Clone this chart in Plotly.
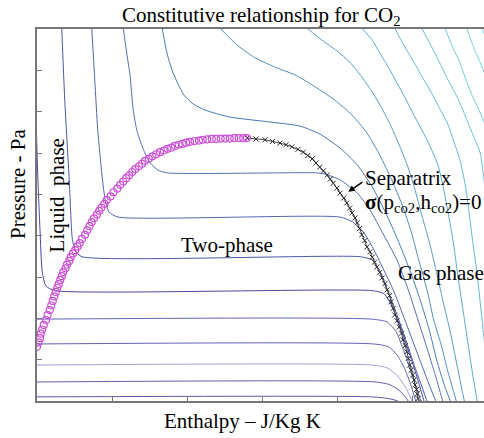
import plotly.graph_objects as go

# ---- isotherms (enthalpy in tick units, pressure in tick units) ----
# subcritical isotherms: liquid branch, two-phase plateau, gas branch
iso1_h = [0, 4.47, 4.68, 4.81, 4.87]
iso1_p = [0.10, 0.10, 0.06, 0, -0.10]
iso2_h = [0, 4.52, 4.71, 4.84, 4.95, 4.99]
iso2_p = [0.46, 0.46, 0.39, 0.24, 0, -0.15]
iso3_h = [0, 4.47, 4.67, 4.81, 4.92, 5.00, 5.03]
iso3_p = [0.87, 0.87, 0.80, 0.60, 0.31, 0, -0.12]
iso4_h = [0, 4.49, 4.69, 4.81, 4.91, 4.99, 5.05, 5.08]
iso4_p = [1.38, 1.38, 1.31, 1.09, 0.75, 0.36, 0, -0.15]
iso5_h = [0, 4.47, 4.67, 4.79, 4.88, 4.97, 5.05, 5.12, 5.15]
iso5_p = [1.98, 1.98, 1.91, 1.67, 1.26, 0.80, 0.36, 0, -0.15]
iso6_h = [-0.01, 0.01, 0.04, 0.07, 0.12, 0.24, 4.47, 4.63, 4.73, 4.83, 4.92, 5.01, 5.09, 5.16, 5.19]
iso6_p = [6.68, 5.47, 4.14, 3.12, 2.78, 2.67, 2.67, 2.59, 2.30, 1.86, 1.38, 0.90, 0.44, 0, -0.15]
iso7_h = [0.33, 0.37, 0.43, 0.47, 0.51, 0.60, 4.31, 4.47, 4.59, 4.69, 4.80, 4.91, 5.01, 5.11, 5.20, 5.23]
iso7_p = [9.02, 7.28, 5.35, 3.94, 3.63, 3.49, 3.49, 3.41, 3.07, 2.61, 2.08, 1.52, 0.97, 0.46, 0, -0.15]
iso8_h = [0.73, 0.77, 0.81, 0.87, 0.91, 0.96, 1.08, 4.04, 4.21, 4.35, 4.48, 4.61, 4.75, 4.88, 5.00,
          5.12, 5.23, 5.32, 5.35]
iso8_p = [9.02, 7.77, 6.56, 5.40, 4.86, 4.57, 4.45, 4.45, 4.33, 4.09, 3.70, 3.22, 2.69, 2.08, 1.50,
          0.92, 0.39, -0.02, -0.17]
iso9_h = [1.15, 1.20, 1.24, 1.28, 1.33, 1.41, 1.51, 1.61, 1.73, 3.71, 3.84, 4.04, 4.27, 4.44, 4.61,
          4.80, 4.95, 5.08, 5.20, 5.31, 5.41, 5.44]
iso9_p = [9.02, 8.37, 7.89, 7.09, 6.56, 6.12, 5.76, 5.59, 5.52, 5.52, 5.49, 5.35, 5.03, 4.62, 4.06,
          3.41, 2.69, 1.96, 1.28, 0.63, 0, -0.15]

# supercritical isotherms
sc0_h = [1.67, 1.71, 1.75, 1.81, 1.88, 1.96, 2.08, 2.24, 2.57, 3.11, 3.51, 3.77, 4.04, 4.27, 4.47,
         4.65, 4.81, 4.97, 5.11, 5.23, 5.33, 5.43, 5.51, 5.53]
sc0_p = [9.02, 8.61, 8.30, 7.96, 7.67, 7.40, 7.19, 7.04, 6.87, 6.75, 6.65, 6.46, 6.12, 5.71, 5.18,
         4.55, 3.90, 3.17, 2.44, 1.72, 0.99, 0.39, 0, -0.15]
sc1_h = [2.44, 2.67, 2.91, 3.17, 3.44, 3.71, 3.97, 4.20, 4.40, 4.57, 4.73, 4.87, 4.99, 5.09, 5.20,
         5.29, 5.39, 5.48, 5.59, 5.61]
sc1_p = [9.02, 8.61, 8.30, 8.08, 7.89, 7.60, 7.28, 6.92, 6.48, 5.95, 5.35, 4.74, 4.09, 3.41, 2.69,
         1.96, 1.35, 0.70, 0, -0.17]
sc2_h = [3.60, 3.80, 4.00, 4.17, 4.33, 4.48, 4.61, 4.73, 4.84, 4.95, 5.04, 5.13, 5.23, 5.32, 5.41,
         5.51, 5.60, 5.68, 5.71]
sc2_p = [9.02, 8.73, 8.47, 8.20, 7.84, 7.45, 7.04, 6.61, 6.15, 5.64, 5.11, 4.50, 3.85, 3.17, 2.44,
         1.67, 0.87, 0.15, -0.10]
sc3_h = [4.33, 4.47, 4.57, 4.69, 4.80, 4.91, 5.01, 5.11, 5.20, 5.28, 5.35, 5.41, 5.48, 5.55, 5.61,
         5.68, 5.75, 5.81, 5.87, 5.89]
sc3_p = [9.02, 8.73, 8.42, 8.06, 7.69, 7.33, 6.97, 6.63, 6.32, 6.00, 5.69, 5.23, 4.57, 3.85, 3.05,
         2.20, 1.35, 0.63, 0, -0.15]
sc4_h = [4.77, 4.89, 5.01, 5.12, 5.24, 5.35, 5.47, 5.55, 5.64, 5.71, 5.76, 5.81, 5.87, 5.92, 5.97]
sc4_p = [9.02, 8.61, 8.25, 7.89, 7.52, 7.14, 6.73, 6.32, 5.83, 5.23, 4.57, 3.85, 3.05, 2.20, 1.35]
sc5_h = [5.13, 5.25, 5.37, 5.48, 5.60, 5.69, 5.77, 5.84, 5.91, 5.96, 6.01]
sc5_p = [9.02, 8.61, 8.18, 7.77, 7.36, 6.99, 6.63, 6.32, 6.00, 5.35, 4.62]
sc6_h = [5.44, 5.53, 5.64, 5.72, 5.81, 5.88, 5.95, 6.00]
sc6_p = [9.02, 8.61, 8.18, 7.77, 7.36, 7.09, 6.80, 6.56]
sc7_h = [5.73, 5.81, 5.91, 5.99]
sc7_p = [9.02, 8.61, 8.18, 7.82]
sc8_h = [5.93, 6.00]
sc8_p = [9.02, 8.73]

isotherms = [
    (iso1_h, iso1_p, "rgb(90,90,175)"),
    (iso2_h, iso2_p, "rgb(94,94,178)"),
    (iso3_h, iso3_p, "rgb(160,160,212)"),
    (iso4_h, iso4_p, "rgb(98,98,182)"),
    (iso5_h, iso5_p, "rgb(100,102,185)"),
    (iso6_h, iso6_p, "rgb(72,72,165)"),
    (iso7_h, iso7_p, "rgb(78,86,170)"),
    (iso8_h, iso8_p, "rgb(86,100,176)"),
    (iso9_h, iso9_p, "rgb(86,110,182)"),
    (sc0_h, sc0_p, "rgb(74,120,182)"),
    (sc1_h, sc1_p, "rgb(80,140,194)"),
    (sc2_h, sc2_p, "rgb(86,157,202)"),
    (sc3_h, sc3_p, "rgb(92,172,207)"),
    (sc4_h, sc4_p, "rgb(97,186,212)"),
    (sc5_h, sc5_p, "rgb(102,197,215)"),
    (sc6_h, sc6_p, "rgb(107,207,217)"),
    (sc7_h, sc7_p, "rgb(112,215,221)"),
    (sc8_h, sc8_p, "rgb(117,221,223)"),
]

# ---- separatrix: saturated-liquid side (circles) ----
liq_h = [0, 0.02, 0.04, 0.05, 0.07, 0.09, 0.12, 0.14, 0.17, 0.19, 0.21, 0.23, 0.25, 0.27, 0.29,
         0.31, 0.33, 0.35, 0.38, 0.40, 0.43, 0.45, 0.48, 0.51, 0.54, 0.57, 0.60, 0.64, 0.67, 0.70,
         0.73, 0.76, 0.80, 0.83, 0.86, 0.90, 0.93, 0.98, 1.02, 1.07, 1.11, 1.15, 1.19, 1.23, 1.27,
         1.31, 1.36, 1.40, 1.44, 1.49, 1.54, 1.59, 1.64, 1.69, 1.74, 1.79, 1.84, 1.89, 1.94, 1.99,
         2.04, 2.10, 2.16, 2.21, 2.27, 2.33, 2.39, 2.45, 2.51, 2.57, 2.63, 2.69, 2.75, 2.80]
liq_p = [1.31, 1.42, 1.52, 1.63, 1.73, 1.84, 1.96, 2.08, 2.20, 2.31, 2.42, 2.53, 2.64, 2.74, 2.83,
         2.93, 3.02, 3.12, 3.21, 3.30, 3.39, 3.48, 3.57, 3.65, 3.74, 3.82, 3.92, 4.02, 4.13, 4.23,
         4.33, 4.42, 4.51, 4.60, 4.68, 4.77, 4.86, 4.95, 5.05, 5.14, 5.23, 5.31, 5.39, 5.46, 5.54,
         5.61, 5.68, 5.74, 5.81, 5.86, 5.92, 5.97, 6.02, 6.06, 6.10, 6.13, 6.17, 6.20, 6.22, 6.25,
         6.27, 6.29, 6.30, 6.32, 6.33, 6.34, 6.34, 6.35, 6.35, 6.35, 6.36, 6.36, 6.36, 6.36]

# ---- separatrix: saturated-vapour side (crosses) ----
vap_h = [2.80, 2.92, 3.04, 3.14, 3.24, 3.32, 3.40, 3.48, 3.55, 3.61, 3.67, 3.72, 3.77, 3.82, 3.87,
         3.91, 3.95, 4.00, 4.04, 4.09, 4.13, 4.17, 4.20, 4.24, 4.27, 4.30, 4.33, 4.37, 4.40, 4.44,
         4.47, 4.50, 4.53, 4.57, 4.60, 4.64, 4.67, 4.70, 4.72, 4.75, 4.77, 4.80, 4.83, 4.86, 4.88,
         4.91, 4.93, 4.95, 4.97, 4.99, 5.01, 5.03, 5.04, 5.06, 5.07, 5.08, 5.09]
vap_p = [6.36, 6.34, 6.32, 6.28, 6.24, 6.20, 6.15, 6.09, 6.02, 5.94, 5.86, 5.76, 5.66, 5.57, 5.47,
         5.37, 5.27, 5.15, 5.03, 4.91, 4.79, 4.67, 4.55, 4.43, 4.31, 4.17, 4.02, 3.88, 3.73, 3.61,
         3.48, 3.36, 3.24, 3.11, 2.98, 2.84, 2.69, 2.55, 2.40, 2.24, 2.08, 1.94, 1.79, 1.64, 1.48,
         1.34, 1.19, 1.03, 0.87, 0.75, 0.63, 0.51, 0.39, 0.28, 0.17, 0.06, -0.05]

SERIF = "Liberation Serif, Times New Roman, serif"

fig = go.Figure()
for h, p, c in isotherms:
    fig.add_trace(go.Scatter(x=h, y=p, mode="lines",
                             line=dict(color=c, width=1, shape="spline", smoothing=0.6),
                             hoverinfo="skip", showlegend=False))

fig.add_trace(go.Scatter(x=vap_h, y=vap_p, mode="lines+markers",
                         line=dict(color="rgb(70,70,70)", width=1),
                         marker=dict(symbol="x-thin", size=5, color="rgb(40,40,40)",
                                     line=dict(color="rgb(40,40,40)", width=1)),
                         showlegend=False))
fig.add_trace(go.Scatter(x=liq_h, y=liq_p, mode="markers",
                         marker=dict(symbol="circle-open", size=7, color="rgb(205,75,215)",
                                     line=dict(width=1.2)),
                         showlegend=False))

ann = [
    dict(text="Constitutive relationship for CO<sub>2</sub>", xref="paper", yref="paper",
         x=0.503, y=1.036, xanchor="center", yanchor="middle", showarrow=False,
         font=dict(family=SERIF, size=21, color="black")),
    dict(text="Enthalpy \u2013 J/Kg K", xref="paper", yref="paper",
         x=0.459, y=-0.054, xanchor="center", yanchor="middle", showarrow=False,
         font=dict(family=SERIF, size=21, color="black")),
    dict(text="Pressure - Pa", xref="paper", yref="paper", textangle=-90,
         x=-0.043, y=0.583, xanchor="center", yanchor="middle", showarrow=False,
         font=dict(family=SERIF, size=21, color="black")),
    dict(text="Liquid&nbsp; phase", x=0.27, y=4.98, textangle=-90,
         xanchor="center", yanchor="middle", showarrow=False,
         font=dict(family=SERIF, size=21, color="black")),
    dict(text="Two-phase", x=2.53, y=3.77, xanchor="center", yanchor="middle",
         showarrow=False, font=dict(family=SERIF, size=21, color="black")),
    dict(text="Separatrix", x=4.35, y=5.40, xanchor="left", yanchor="middle",
         showarrow=False, font=dict(family=SERIF, size=21, color="black")),
    dict(text="<b>\u03c3</b>(p<sub>co2</sub>,h<sub>co2</sub>)=0", x=4.35, y=4.79,
         xanchor="left", yanchor="middle", showarrow=False,
         font=dict(family=SERIF, size=21, color="black")),
    dict(text="Gas phase", x=4.79, y=3.10, xanchor="left", yanchor="middle",
         showarrow=False, font=dict(family=SERIF, size=21, color="black")),
    dict(text="", x=4.15, y=5.06, ax=4.36, ay=5.32, axref="x", ayref="y",
         showarrow=True, arrowhead=2, arrowsize=1, arrowwidth=1.3, arrowcolor="black"),
]

fig.update_layout(
    width=484, height=438,
    margin=dict(l=37, r=0, t=29, b=37),
    paper_bgcolor="white", plot_bgcolor="white",
    annotations=ann, showlegend=False,
    xaxis=dict(range=[0, 5.96], showgrid=False, zeroline=False, showticklabels=False,
               tickvals=[0, 1, 2, 3, 4, 5], ticks="inside", ticklen=5, tickcolor="#777",
               showline=True, linecolor="#777", linewidth=2, mirror=True),
    yaxis=dict(range=[0, 9], showgrid=False, zeroline=False, showticklabels=False,
               tickvals=[0, 1, 2, 3, 4, 5, 6, 7, 8, 9], ticks="inside", ticklen=5,
               tickcolor="#777", showline=True, linecolor="#777", linewidth=2),
)

fig.write_html("out.html")
